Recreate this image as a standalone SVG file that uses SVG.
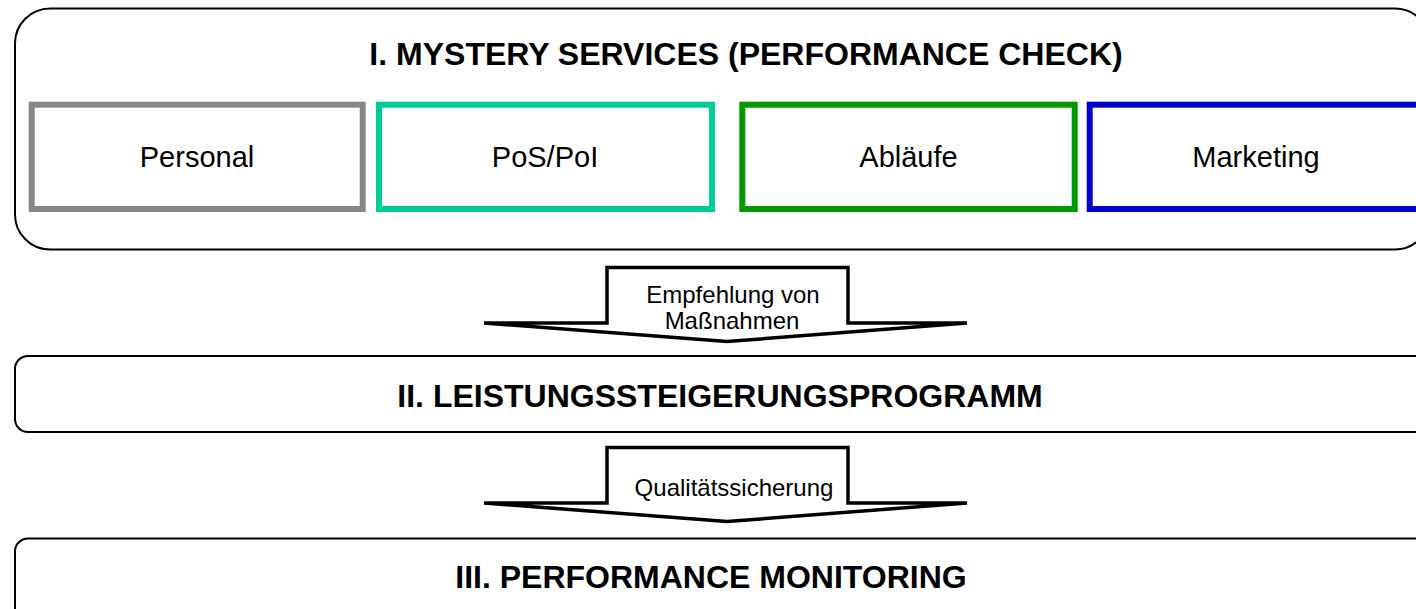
<svg xmlns="http://www.w3.org/2000/svg" width="1416" height="609" viewBox="0 0 1416 609">
<style>
.frame{fill:#fff;stroke:#000;stroke-width:2}
.cat{fill:#fff;stroke-width:6}
.title{font-family:"Liberation Sans",Arial,sans-serif;font-weight:bold;font-size:32px;fill:#000;text-anchor:middle}
.lbl{font-family:"Liberation Sans",Arial,sans-serif;font-size:29px;fill:#000;text-anchor:middle}
.alb{font-family:"Liberation Sans",Arial,sans-serif;font-size:24px;fill:#000;text-anchor:middle}
.arrow{fill:#fff;stroke:#000;stroke-width:3.5;stroke-linejoin:miter}
</style>
<rect width="1416" height="609" fill="#fff"/>
<g id="stage1">
<rect class="frame" x="15" y="8.5" width="1415" height="241" rx="35" ry="35"/>
<text class="title" x="746" y="65">I. MYSTERY SERVICES (PERFORMANCE CHECK)</text>
</g>
<g id="personal">
<rect class="cat" x="31.7" y="104.7" width="331" height="104.3" stroke="#878787"/>
<text class="lbl" x="197" y="167">Personal</text>
</g>
<g id="pos">
<rect class="cat" x="379" y="104.7" width="333" height="104.3" stroke="#00CC99"/>
<text class="lbl" x="545" y="167">PoS/PoI</text>
</g>
<g id="ablaeufe">
<rect class="cat" x="742.3" y="104.7" width="332.4" height="104.3" stroke="#009900"/>
<text class="lbl" x="908.5" y="167">Abläufe</text>
</g>
<g id="marketing">
<rect class="cat" x="1089.7" y="104.7" width="332.6" height="104.3" stroke="#0000CC"/>
<text class="lbl" x="1256" y="167">Marketing</text>
</g>
<g id="stage2">
<rect class="frame" x="15" y="356" width="1420" height="76" rx="13" ry="13"/>
<text class="title" x="720" y="407">II. LEISTUNGSSTEIGERUNGSPROGRAMM</text>
</g>
<g id="stage3">
<rect class="frame" x="15" y="538.5" width="1420" height="100" rx="13" ry="13"/>
<text class="title" x="711" y="588">III. PERFORMANCE MONITORING</text>
</g>
<g id="connectors">
<polygon class="arrow" points="484,323 607,323 607,267.5 848,267.5 848,323 967,323 727,341.5"/>
<text class="alb" x="733" y="303">Empfehlung von</text>
<text class="alb" x="732" y="329">Maßnahmen</text>
<polygon class="arrow" points="484,503 607,503 607,447.5 848,447.5 848,503 967,503 727,521.5"/>
<text class="alb" x="734" y="496">Qualitätssicherung</text>
</g>
</svg>
